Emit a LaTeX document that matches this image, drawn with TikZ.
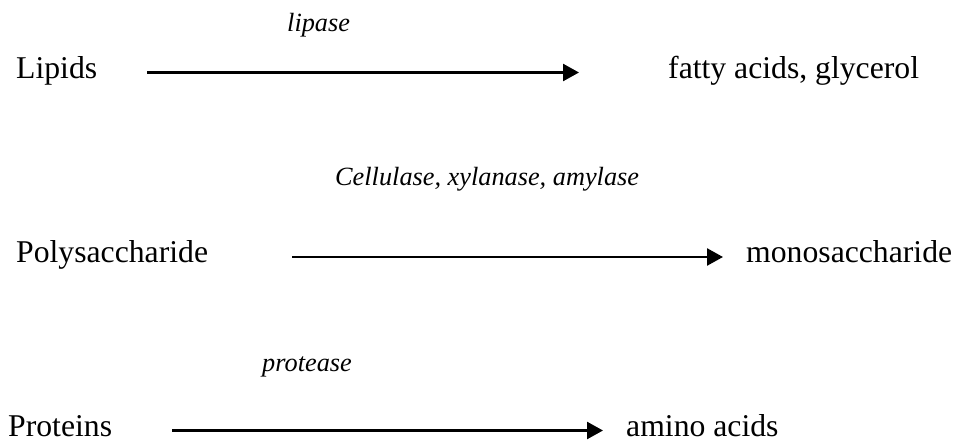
\documentclass[tikz,border=0pt]{standalone}
\usepackage{fontspec}
\setmainfont{Liberation Serif}
\usetikzlibrary{arrows.meta}
\begin{document}
\begin{tikzpicture}[x=1pt,y=-1pt,
  term/.style={anchor=base west,inner sep=0pt,font=\fontsize{31.7}{38}\selectfont},
  enz/.style={anchor=base west,inner sep=0pt,font=\fontsize{26.3}{32}\selectfont\itshape},
  rxn/.style={line width=2.5pt,-{Triangle[length=16pt,width=17pt]}}]
\useasboundingbox (0,0) rectangle (957,441);
% row 1
\node[term] (lip) at (16,79) {Lipids};
\node[term] (fa) at (668,79) {fatty acids, glycerol};
\node[enz] (lipase) at (287,32) {lipase};
\coordinate (a1s) at (147,72.5);
\coordinate (a1e) at (579,72.5);
\draw[rxn] (a1s) -- (a1e);
% row 2
\node[term] (poly) at (16,262) {Polysaccharide};
\node[term] (mono) at (746,262) {monosaccharide};
\node[enz] (cell) at (335,185) {Cellulase, xylanase, amylase};
\coordinate (a2s) at (292,257);
\coordinate (a2e) at (723,257);
\draw[rxn] (a2s) -- (a2e);
% row 3
\node[term] (prot) at (8,436.5) {Proteins};
\node[term] (amino) at (626,436.5) {amino acids};
\node[enz] (protease) at (262,371.7) {protease};
\coordinate (a3s) at (172,430.5);
\coordinate (a3e) at (603,430.5);
\draw[rxn] (a3s) -- (a3e);
\end{tikzpicture}
\end{document}
